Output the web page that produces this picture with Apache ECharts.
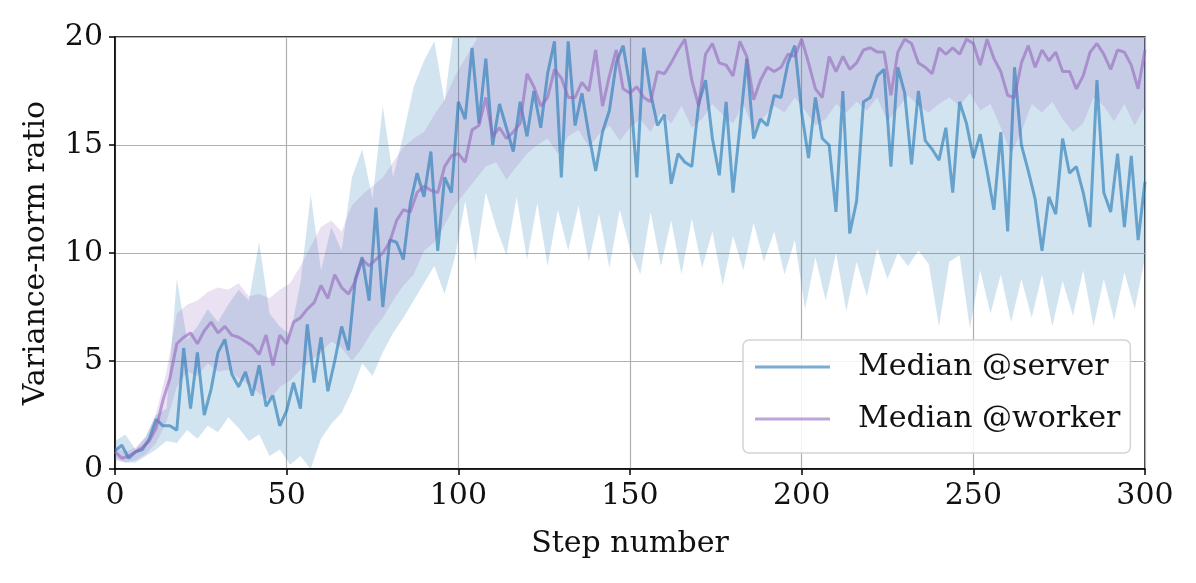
<!DOCTYPE html>
<html>
<head>
<meta charset="utf-8">
<script src="https://cdn.jsdelivr.net/npm/echarts@6/dist/echarts.min.js"></script>
<style>
  html, body { margin: 0; padding: 0; background: #fff; }
  #chart { width: 1196px; height: 583px; }
</style>
</head>
<body>
<div id="chart"></div>
<script>
// median lines, one value every 2 steps (0..300)
var serverMedian = [
  0.85, 1.1, 0.5, 0.8, 0.9, 1.4, 2.3, 2.0, 2.0, 1.8,
  5.6, 2.8, 5.4, 2.5, 3.7, 5.4, 6.0, 4.4, 3.8, 4.5,
  3.4, 4.8, 2.9, 3.4, 2.0, 2.7, 4.0, 2.8, 6.7, 4.0,
  6.1, 3.6, 5.0, 6.6, 5.5, 8.8, 9.8, 7.8, 12.1, 7.5,
  10.6, 10.5, 9.7, 12.3, 13.7, 12.6, 14.7, 10.1, 13.5, 12.8,
  17.0, 16.2, 19.5, 16.0, 19.0, 15.0, 16.9, 15.8, 14.7, 17.0,
  15.4, 17.5, 15.8, 18.3, 19.8, 13.5, 19.8, 15.9, 17.4, 15.5,
  13.8, 15.6, 16.6, 18.8, 19.6, 17.7, 13.5, 19.5, 17.4, 15.9,
  16.4, 13.2, 14.6, 14.2, 14.0, 16.9, 18.0, 15.3, 13.6, 17.0,
  12.8, 15.8, 19.0, 15.3, 16.2, 15.9, 17.3, 17.2, 18.8, 19.6,
  16.5, 14.4, 17.2, 15.3, 15.0, 11.9, 17.5, 10.9, 12.4, 17.0,
  17.2, 18.2, 18.5, 14.0, 18.6, 17.4, 14.1, 17.5, 15.2, 14.8,
  14.3, 15.8, 12.8, 17.0, 16.0, 14.4, 15.5, 13.8, 12.0, 15.6,
  11.0, 18.6, 15.0, 13.8, 12.5, 10.1, 12.6, 11.8, 15.3, 13.7,
  14.0, 12.8, 11.2, 18.0, 12.8, 11.9, 14.6, 11.2, 14.5, 10.6,
  13.3
];
var workerMedian = [
  0.8, 0.5, 0.6, 0.8, 1.0, 1.3, 1.9, 3.2, 4.2, 5.8,
  6.1, 6.3, 5.8, 6.4, 6.8, 6.3, 6.6, 6.2, 6.1, 5.9,
  5.7, 5.3, 6.2, 4.8, 6.2, 5.8, 6.8, 7.0, 7.4, 7.7,
  8.5, 7.9, 9.0, 8.4, 8.1, 8.7, 9.7, 9.4, 9.7, 10.0,
  10.5, 11.5, 12.0, 11.9, 12.8, 13.1, 12.9, 12.8, 14.0, 14.5,
  14.6, 14.2, 15.7, 15.9, 17.2, 15.4, 15.8, 15.3, 15.6, 16.0,
  18.3, 17.7, 16.8, 17.2, 18.5, 18.1, 17.2, 17.2, 17.9, 17.5,
  19.4, 16.8, 18.2, 19.4, 17.6, 17.4, 17.7, 17.2, 17.0, 18.4,
  18.3, 18.8, 19.4, 19.9, 18.0, 16.8, 19.2, 19.7, 18.8, 18.7,
  18.2, 19.8, 19.1, 17.1, 18.0, 18.6, 18.4, 18.6, 19.2, 19.1,
  19.9, 18.8, 17.6, 17.2, 19.1, 18.4, 19.1, 18.5, 18.8, 19.4,
  19.5, 19.3, 19.3, 17.3, 19.3, 19.9, 19.7, 18.8, 18.6, 18.3,
  19.5, 19.2, 19.5, 19.2, 19.9, 19.7, 18.7, 19.9, 19.0, 18.4,
  17.3, 17.2, 18.8, 19.6, 18.6, 19.4, 18.9, 19.3, 18.4, 18.4,
  17.6, 18.2, 19.3, 19.7, 19.2, 18.5, 19.4, 19.3, 18.7, 17.6,
  19.4
];

// spread bands, one value every 3 steps (0..300)
var serverLow = [
  0.5, 0.3, 0.3, 0.6, 0.9, 1.3, 1.2, 1.8, 1.4, 2.0,
  1.7, 2.4, 1.9, 1.3, 1.6, 0.6, 0.9, 0.2, 0.6, 0.0,
  1.4, 2.1, 2.6, 3.6, 4.9, 4.3, 5.4, 6.3, 7.0, 7.8,
  8.6, 9.4, 8.1, 9.8, 12.4, 9.6, 12.8, 11.2, 9.9, 12.6,
  9.7, 12.3, 9.4, 12.0, 10.1, 12.2, 9.6, 11.8, 9.3, 12.0,
  10.2, 9.0, 11.9, 9.4, 11.5, 9.0, 11.6, 9.3, 11.0, 8.5,
  10.8, 9.2, 11.4, 9.6, 11.0, 9.0, 10.6, 7.4, 9.8, 7.8,
  10.0, 7.3, 9.6, 8.0, 10.2, 8.8, 10.0, 9.4, 10.1, 9.5,
  6.6, 9.6, 9.9, 6.5, 9.2, 7.2, 9.0, 6.8, 8.8, 7.0,
  9.0, 6.6, 8.7, 7.1, 9.2, 6.6, 8.8, 6.9, 9.1, 7.4,
  9.8
];
var serverHigh = [
  1.3, 1.6, 0.9, 1.5, 2.5, 2.8, 8.8, 6.0, 6.6, 7.4,
  6.8, 7.6, 8.3, 7.8, 10.5, 7.2, 6.6, 6.2, 8.6, 12.7,
  9.2, 11.2, 10.1, 13.5, 14.8, 12.5, 16.8, 13.5, 15.5, 17.7,
  18.9, 19.8, 17.0, 20.8, 21.5, 22.0, 21.5, 20.5, 22.4, 21.2,
  23.0, 21.6, 22.5, 20.9, 23.2, 21.8, 22.4, 21.0, 22.8, 23.5,
  21.9, 22.6, 21.4, 23.1, 22.0, 21.3, 22.7, 21.6, 23.0, 22.1,
  21.5, 22.9, 21.8, 22.3, 23.2, 21.7, 22.6, 21.2, 22.8, 21.9,
  22.5, 21.4, 23.0, 22.2, 21.6, 22.9, 21.8, 22.4, 21.3, 22.7,
  21.9, 22.6, 21.5, 23.1, 22.0, 21.7, 22.8, 21.4, 22.3, 21.9,
  22.6, 21.2, 22.9, 21.8, 22.4, 21.6, 22.2, 21.5, 22.8, 21.9,
  22.0
];
var workerLow = [
  0.4, 0.3, 0.4, 0.7, 1.2, 2.2, 3.8, 4.5, 4.3, 4.9,
  4.5, 4.6, 4.2, 3.9, 3.5, 3.2, 3.8, 4.1, 4.6, 5.0,
  5.4, 5.9, 5.6, 5.0, 5.6, 6.4, 7.0, 7.8, 8.5, 9.0,
  10.1, 10.5, 11.3, 12.2, 12.8, 13.4, 14.0, 14.2, 13.4, 14.0,
  14.6, 15.0, 15.3, 14.6, 15.4, 15.7, 14.9, 15.5, 15.9, 15.2,
  15.8, 16.2, 15.6, 16.5, 16.0, 16.8, 15.8, 16.2, 16.9, 16.4,
  16.0, 16.9, 15.7, 16.3, 16.8, 16.5, 17.2, 16.6, 15.9, 16.2,
  16.9, 16.5, 17.0, 16.6, 17.2, 16.1, 16.7, 17.3, 16.8, 16.5,
  16.9, 17.2, 16.8, 17.4, 16.6, 16.9, 15.8, 14.6, 15.6, 16.9,
  16.5, 17.0, 16.2, 15.6, 16.0, 17.2, 16.8, 16.1, 16.9, 15.9,
  16.8
];
var workerHigh = [
  1.0, 0.8, 1.0, 1.5, 2.6, 4.5, 7.2, 7.6, 7.8, 8.2,
  8.4, 8.3, 8.6, 8.0, 8.1, 7.9, 8.3, 8.6, 9.4, 10.3,
  11.2, 11.5, 11.0, 12.2, 12.7, 13.1, 13.5, 14.2, 14.9, 15.3,
  15.6, 16.4, 17.1, 18.2, 19.0, 19.8, 20.8, 21.4, 20.9, 21.8,
  22.0, 21.3, 22.4, 21.6, 22.1, 21.5, 22.6, 21.8, 22.2, 21.4,
  22.5, 21.7, 22.0, 21.5, 22.3, 21.9, 22.6, 21.4, 22.1, 21.8,
  22.4, 21.6, 22.0, 21.5, 22.7, 21.9, 22.2, 21.4, 22.5, 21.8,
  22.1, 21.6, 22.4, 21.9, 22.0, 21.5, 22.6, 21.7, 22.3, 21.9,
  22.0, 21.4, 22.5, 21.8, 22.2, 21.6, 22.4, 21.9, 22.1, 21.5,
  22.6, 21.7, 22.3, 21.8, 22.0, 21.5, 22.4, 21.9, 22.2, 21.6,
  22.0
];

var xTicks = [0, 50, 100, 150, 200, 250, 300];
var yTicks = [0, 5, 10, 15, 20];
var names = ['Median @server', 'Median @worker'];

(function() {
  var myChart = echarts.init(document.getElementById('chart'));

  var font = 'DejaVu Serif';
  var blueLine = 'rgba(31,119,180,0.6)';
  var purpleLine = 'rgba(148,103,189,0.6)';
  var blueFill = 'rgba(31,119,180,0.2)';
  var purpleFill = 'rgba(148,103,189,0.2)';

  function pairs(values, every) {
    return values.map(function(v, i) { return [i * every, v]; });
  }

  // shaded band: one polygon, upper edge then lower edge back
  function band(lo, hi, color) {
    return {
      type: 'custom', silent: true, clip: true, z: 2,
      data: lo.map(function(v, i) { return [i * 3, v, hi[i]]; }),
      encode: { x: 0, y: [1, 2] },
      renderItem: function(params, api) {
        if (params.dataIndex !== 0) return null;
        var pts = [];
        for (var i = 0; i < hi.length; i++) pts.push(api.coord([i * 3, hi[i]]));
        for (var j = lo.length - 1; j >= 0; j--) pts.push(api.coord([j * 3, lo[j]]));
        return { type: 'polygon', shape: { points: pts }, style: { fill: color } };
      }
    };
  }
  function medianLine(name, values, color) {
    return {
      name: name, type: 'line', data: pairs(values, 2),
      symbol: 'none', color: color,
      lineStyle: { color: color, width: 3 }, silent: true, z: 3
    };
  }

  var option = {
    animation: false,
    grid: {
      left: 115, right: 51, top: 37, bottom: 114,
      show: true, borderColor: '#000', borderWidth: 1.5
    },
    legend: {
      data: names,
      orient: 'vertical',
      left: 743, top: 340,
      icon: 'rect', itemWidth: 75, itemHeight: 3, itemGap: 22,
      padding: [12, 10, 19, 12],
      backgroundColor: 'rgba(255,255,255,0.85)',
      borderColor: '#d4d4d4', borderWidth: 1.5, borderRadius: 6,
      textStyle: { fontFamily: font, fontSize: 30, color: '#111', padding: [0, 0, 0, 23] }
    },
    xAxis: {
      type: 'value', min: xTicks[0], max: xTicks[xTicks.length - 1], interval: 50,
      name: 'Step number', nameLocation: 'middle', nameGap: 60,
      nameTextStyle: { fontFamily: font, fontSize: 30, color: '#111' },
      axisLine: { lineStyle: { color: '#000', width: 1.5 } },
      axisTick: { show: true, inside: false, length: 6, lineStyle: { color: '#000', width: 1.5 } },
      axisLabel: { fontFamily: font, fontSize: 30, color: '#111', margin: 12 },
      splitLine: { show: true, lineStyle: { color: '#b0b0b0', width: 1.2 } }
    },
    yAxis: {
      type: 'value', min: yTicks[0], max: yTicks[yTicks.length - 1], interval: 5,
      name: 'Variance-norm ratio', nameLocation: 'middle', nameGap: 64,
      nameTextStyle: { fontFamily: font, fontSize: 30, color: '#111' },
      axisLine: { show: true, lineStyle: { color: '#000', width: 1.5 } },
      axisTick: { show: true, inside: false, length: 6, lineStyle: { color: '#000', width: 1.5 } },
      axisLabel: { fontFamily: font, fontSize: 30, color: '#111', margin: 12 },
      splitLine: { show: true, lineStyle: { color: '#b0b0b0', width: 1.2 } }
    },
    series: [
      band(serverLow, serverHigh, blueFill),
      medianLine(names[0], serverMedian, blueLine),
      band(workerLow, workerHigh, purpleFill),
      medianLine(names[1], workerMedian, purpleLine)
    ]
  };

  myChart.setOption(option);
})();
</script>
</body>
</html>
